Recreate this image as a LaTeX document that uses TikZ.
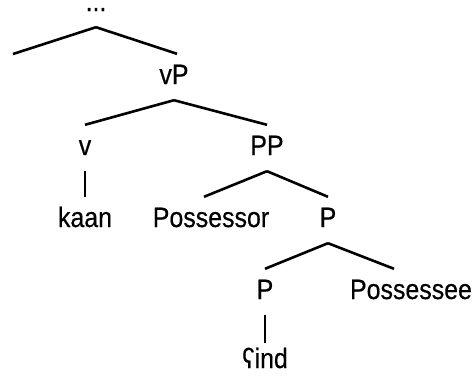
\documentclass[tikz,border=0pt]{standalone}
\usepackage{fontspec}
\setmainfont[FakeStretch=0.89,FakeBold=0.4]{Liberation Sans}
\begin{document}
\begin{tikzpicture}[x=1pt,y=-1pt,
  lbl/.style={font=\fontsize{28}{32}\selectfont, anchor=base, text height=20pt, text depth=6pt, inner ysep=10pt, inner xsep=0pt},
  dotlbl/.style={lbl, text height=3pt, text depth=14pt, inner ysep=2pt},
  branch/.style={line width=2.6pt, black}]
\useasboundingbox (0,0) rectangle (474,376);
\node[dotlbl] (dots) at (96,11) {...};
\coordinate (left) at (13,54);
\node[lbl] (vP) at (174,84) {vP};
\node[lbl] (v) at (85,155) {v};
\node[lbl] (PP) at (267,155) {PP};
\node[lbl] (kaan) at (85,227) {kaan};
\node[lbl] (Possessor) at (211,227) {Possessor};
\node[lbl] (P1) at (328,227) {P};
\node[lbl] (P2) at (265,299) {P};
\node[lbl] (Possessee) at (411,299) {Possessee};
\node[lbl] (ind) at (265,368) {ʕind};
\draw[branch] (dots.south) -- (left);
\draw[branch] (dots.south) -- ([xshift=3pt]vP.north);
\draw[branch] (vP.south) -- (v.north);
\draw[branch] (vP.south) -- (PP.north);
\draw[branch] (v.south) -- (kaan.north);
\draw[branch] (PP.south) -- ([xshift=-7pt]Possessor.north);
\draw[branch] (PP.south) -- (P1.north);
\draw[branch] (P1.south) -- (P2.north);
\draw[branch] (P1.south) -- ([xshift=-17pt]Possessee.north);
\draw[branch] (P2.south) -- ([yshift=-5pt]ind.north);
\end{tikzpicture}
\end{document}
